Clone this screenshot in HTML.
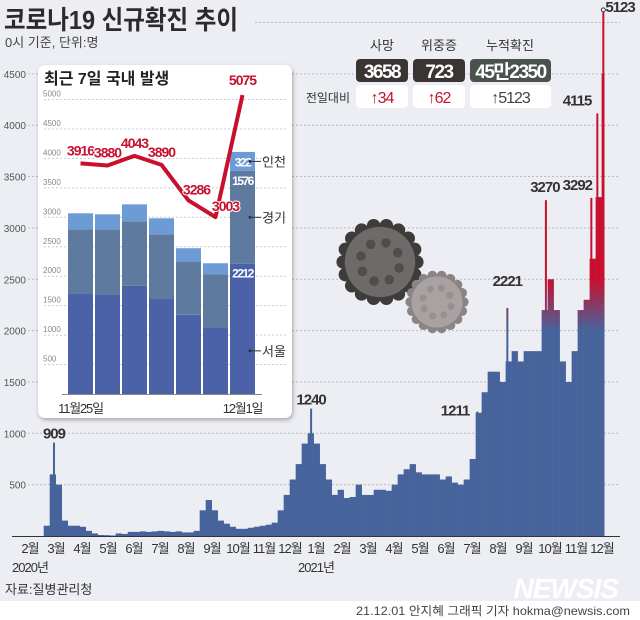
<!DOCTYPE html>
<html><head><meta charset="utf-8">
<style>
html,body{margin:0;padding:0;background:#eceef3;}
body{width:640px;height:620px;overflow:hidden;position:relative;font-family:"Liberation Sans","Noto Sans CJK KR",sans-serif;}
svg{position:absolute;left:0;top:0;}
text{font-family:"Liberation Sans","Noto Sans CJK KR",sans-serif;}
</style></head>
<body>
<svg id="chart" width="640" height="620"></svg>
<script>
// ---- main chart data (weekly average daily cases, from week starting 2020-01-20) ----
const weeklyCases = [0,0,0,0,100,600,500,150,100,100,90,50,25,10,8,5,25,20,40,40,45,40,45,50,45,40,45,35,35,50,250,350,250,150,120,90,70,70,80,90,100,110,130,250,400,550,700,900,1000,900,700,550,400,450,370,380,500,400,400,450,450,440,500,600,650,700,620,600,600,600,550,580,520,500,550,750,1200,1400,1600,1600,1500,1700,1800,1700,1800,1800,1800,2200,2500,2200,1700,1500,1800,2200,2300,2700,3300,4500];
const peakDays = [28,328,522,557,602,655,662,669];
const peakValues = [909,1240,1211,2221,3270,3292,4115,5123];
const yTicks = [500,1000,1500,2000,2500,3000,3500,4000,4500];
const monthLabels = ["2월","3월","4월","5월","6월","7월","8월","9월","10월","11월","12월","1월","2월","3월","4월","5월","6월","7월","8월","9월","10월","11월","12월"];
// ---- inset data ----
const insetDays = ["11월25일","","","","","","12월1일"];
const seoul = [1712,1695,1836,1627,1345,1130,2212];
const gyeonggi = [1085,1102,1096,1085,909,904,1576];
const incheon = [271,254,288,271,221,186,322];
const totals = [3916,3880,4043,3890,3286,3003,5075];
const insetTicks = [500,1000,1500,2000,2500,3000,3500,4000,4500,5000];

const NS="http://www.w3.org/2000/svg";
const svg=document.getElementById('chart');
function el(tag,attrs,parent,txt){const e=document.createElementNS(NS,tag);for(const k in attrs)e.setAttribute(k,attrs[k]);if(txt!==undefined)e.textContent=txt;(parent||svg).appendChild(e);return e;}

const y=v=>536-v*0.1027;
const xd=d=>30+d*0.857;

const defs=el('defs',{});
const lg=el('linearGradient',{id:'rg',gradientUnits:'userSpaceOnUse',x1:0,y1:y(2000),x2:0,y2:y(2500)},defs);
el('stop',{offset:0,'stop-color':'#46639b'},lg);el('stop',{offset:1,'stop-color':'#c8102e'},lg);
const sh=el('filter',{id:'sh',x:'-10%',y:'-10%',width:'120%',height:'120%'},defs);
el('feDropShadow',{dx:1,dy:2,stdDeviation:2,'flood-opacity':0.3},sh);

let t=el('text',{x:4,y:29,'font-size':26,'font-weight':'bold',fill:'#2b2b2b',textLength:234,lengthAdjust:'spacingAndGlyphs'},svg,'코로나19 신규확진 추이');

t=el('text',{x:5,y:47,'font-size':13,fill:'#444'},svg,'0시 기준, 단위:명');


yTicks.concat([5000]).forEach(v=>{
  const g=el('line',{x1:v===5000?255:28,x2:620,y1:y(v),y2:y(v),stroke:'#b8bcc6','stroke-dasharray':'2,2','stroke-width':1});
  
});
yTicks.forEach(v=>{
  const l=el('text',{x:26,y:y(v)+4,'font-size':10,fill:'#555','text-anchor':'end'},svg,String(v));
  
});

const bars=el('g',{fill:'url(#rg)'});

weeklyCases.forEach((v,i)=>{
  const d=-12+7*i; let x0=xd(d), x1=xd(Math.min(d+7,670));
  if(v<=0)return;
  const r=el('rect',{x:x0,y:y(v),width:x1-x0+0.3,height:536-y(v)},bars);
  
});
peakDays.forEach((d,i)=>{
  const p=el('rect',{x:xd(d)-1,y:y(peakValues[i]),width:2,height:536-y(peakValues[i]),fill:'url(#rg)'});
  
});
let ax=el('line',{x1:12,x2:620,y1:536.5,y2:536.5,stroke:'#333','stroke-width':1});

monthLabels.forEach((m,i)=>{
  const l=el('text',{x:30+i*26,y:553,'font-size':13,fill:'#333','text-anchor':'middle','letter-spacing':'-1'},svg,m);
  
});
t=el('text',{x:30,y:572,'font-size':13,fill:'#333','text-anchor':'middle','letter-spacing':'-1'},svg,'2020년');
t=el('text',{x:316,y:572,'font-size':13,fill:'#333','text-anchor':'middle','letter-spacing':'-1'},svg,'2021년');

const peakOff=[[0,-4,'middle'],[0,-4,'middle'],[-8,4,'end'],[0,-22,'middle'],[-1,-8,'middle'],[-14,-8,'middle'],[-6,-8,'end'],[2,2,'start']];
peakDays.forEach((d,i)=>{
  const o=peakOff[i];
  const l=el('text',{x:xd(d)+o[0],y:y(peakValues[i])+o[1],'font-size':15,'font-weight':'bold',fill:'#333','text-anchor':o[2],'letter-spacing':'-1'},svg,String(peakValues[i]));
  
});
el('circle',{cx:xd(669),cy:y(5123),r:2,fill:'#fff',stroke:'#333'});

function virus(cx,cy,r,col,dark,name){
  const g=el('g',{});
  for(let k=0;k<18;k++){const a=k*Math.PI/9;el('circle',{cx:cx+Math.cos(a)*r*0.92,cy:cy+Math.sin(a)*r*0.92,r:r*0.17,fill:dark},g);}
  el('circle',{cx:cx,cy:cy,r:r*0.88,fill:col},g);
  for(let k=0;k<8;k++){const a=k*Math.PI/4+0.3;el('circle',{cx:cx+Math.cos(a)*r*0.5,cy:cy+Math.sin(a)*r*0.5,r:r*0.12,fill:dark,opacity:0.6},g);}
}
virus(380,262,40,'#6e6a6a','#3e3b3b','virus-image-large');
virus(437,302,29,'#a8a2a2','#8a8484','virus-image-small');

const sumLbl=[['사망',382,356,52,'3658','#3a3533','↑34','#c8102e'],['위중증',439,413,52,'723','#3a3533','↑62','#c8102e'],['누적확진',510,470,81,'45만2350','#4a524e','↑5123','#444']];
sumLbl.forEach(s=>{
  const g=el('g',{});
  el('text',{x:s[1],y:50,'font-size':13,fill:'#333','text-anchor':'middle'},g,s[0]);
  el('rect',{x:s[2],y:59,width:s[3],height:23,rx:4,fill:s[5]},g);
  el('text',{x:s[2]+s[3]/2,y:78,'font-size':19,'font-weight':'bold',fill:'#fff','text-anchor':'middle','letter-spacing':'-1.5'},g,s[4]);
  el('rect',{x:s[2],y:85,width:s[3],height:23,rx:4,fill:'#fff'},g);
  el('text',{x:s[2]+s[3]/2,y:103,'font-size':16,fill:s[7],'text-anchor':'middle','letter-spacing':'-1'},g,s[6]);
});
t=el('text',{x:350,y:102,'font-size':12,fill:'#333','text-anchor':'end'},svg,'전일대비');

const ig=el('g',{});
el('rect',{x:38,y:65,width:254,height:353,rx:7,fill:'#fff',filter:'url(#sh)'},ig);
el('text',{x:44,y:84,'font-size':16,'font-weight':'bold',fill:'#222'},ig,'최근 7일 국내 발생');
const iy=v=>394-v*0.0589;
insetTicks.forEach(v=>{
  el('line',{x1:44,x2:286,y1:iy(v),y2:iy(v),stroke:'#c9ccd3','stroke-dasharray':'2,2'},ig);
  el('text',{x:43,y:iy(v)-3,'font-size':8,fill:'#888'},ig,String(v));
});
const bx=i=>68+i*27;
seoul.forEach((s,i)=>{
  const g=gyeonggi[i],c=incheon[i];
  let r=el('rect',{x:bx(i),y:iy(s),width:25,height:394-iy(s),fill:'#4b62a9'},ig);
  r=el('rect',{x:bx(i),y:iy(s+g),width:25,height:iy(s)-iy(s+g),fill:'#5e7b9f'},ig);
  r=el('rect',{x:bx(i),y:iy(s+g+c),width:25,height:iy(s+g)-iy(s+g+c),fill:'#6d9bd5'},ig);
  if(insetDays[i])el('text',{x:bx(i)+12.5,y:413,'font-size':13,fill:'#333','text-anchor':'middle','letter-spacing':'-1.2'},ig,insetDays[i]);
});
el('line',{x1:62,x2:262,y1:394.5,y2:394.5,stroke:'#888'},ig);
const l6=6;
el('text',{x:bx(l6)+12.5,y:iy(seoul[l6]+gyeonggi[l6]+incheon[l6]/2)+5,'font-size':12,'font-weight':'bold',fill:'#fff','text-anchor':'middle','letter-spacing':'-1.5'},ig,String(incheon[l6]));
el('text',{x:bx(l6)+12.5,y:iy(seoul[l6]+gyeonggi[l6])+14,'font-size':12,'font-weight':'bold',fill:'#fff','text-anchor':'middle','letter-spacing':'-1.5'},ig,String(gyeonggi[l6]));
el('text',{x:bx(l6)+12.5,y:iy(seoul[l6])+14,'font-size':12,'font-weight':'bold',fill:'#fff','text-anchor':'middle','letter-spacing':'-1.5'},ig,String(seoul[l6]));
[['인천',iy(seoul[l6]+gyeonggi[l6]+incheon[l6]/2)],['경기',iy(seoul[l6]+gyeonggi[l6]/2)],['서울',iy(seoul[l6]/2)+22]].forEach(a=>{
  el('line',{x1:bx(l6)+20,x2:bx(l6)+31,y1:a[1],y2:a[1],stroke:'#333'},ig);
  el('circle',{cx:bx(l6)+20,cy:a[1],r:1.5,fill:'#333'},ig);
  el('text',{x:bx(l6)+32,y:a[1]+5,'font-size':13,fill:'#333'},ig,a[0]);
});
const pts=totals.map((v,i)=>(bx(i)+12.5)+','+iy(v)).join(' ');
let pl=el('polyline',{points:pts,fill:'none',stroke:'#c8102e','stroke-width':4,'stroke-linejoin':'round'},ig);

totals.forEach((v,i)=>{
  const dy=(i===6)?-10:(i===4)?-6:(i===5)?-6:-8;
  const dx=(i===4)?8:(i===5)?10:0;
  const l=el('text',{x:bx(i)+12.5+dx,y:iy(v)+dy,'font-size':14,'font-weight':'bold',fill:'#c8102e','text-anchor':'middle','letter-spacing':'-1',stroke:'#fff','stroke-width':2,'paint-order':'stroke'},ig,String(v));
  
});

t=el('text',{x:5,y:594,'font-size':13,fill:'#333'},svg,'자료:질병관리청');
t=el('text',{x:618,y:598,'font-size':28,'font-weight':'bold','font-style':'italic',fill:'#fff','text-anchor':'end','letter-spacing':'-1'},svg,'NEWSIS');
el('rect',{x:0,y:601,width:640,height:19,fill:'#fff'});
t=el('text',{x:630,y:615,'font-size':12,fill:'#444','text-anchor':'end',textLength:274,lengthAdjust:'spacingAndGlyphs'},svg,'21.12.01 안지혜 그래픽 기자 hokma@newsis.com');
</script>
</body></html>
